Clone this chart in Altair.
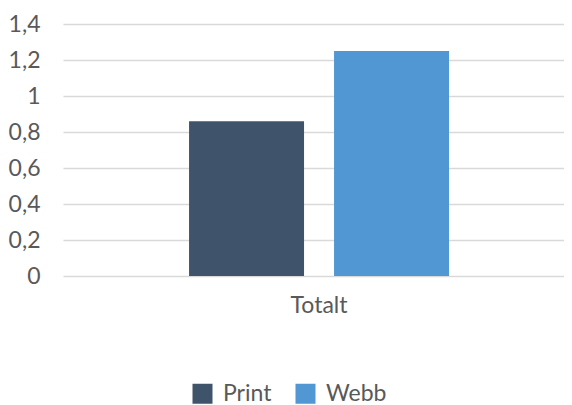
import altair as alt
import pandas as pd

categories = ["Totalt", "Totalt"]
series = ["Print", "Webb"]
values = [0.86, 1.25]
colors = ["#3F546B", "#5097D3"]
y_ticks = [0, 0.2, 0.4, 0.6, 0.8, 1.0, 1.2, 1.4]

df = pd.DataFrame({"kategori": categories, "serie": series, "värde": values})

FONT = "Lato"
TXT = "#595959"
FS = 23

chart = alt.Chart(df).mark_bar().encode(
    x=alt.X("kategori:N", title=None,
            scale=alt.Scale(paddingInner=0, paddingOuter=0.4635, align=0.523),
            axis=alt.Axis(labelAngle=0, ticks=False, domain=False, labelPadding=18,
                          labelFontSize=FS, labelColor=TXT, labelFont=FONT)),
    xOffset=alt.XOffset("serie:N", scale=alt.Scale(domain=series, paddingInner=0.207, paddingOuter=0)),
    y=alt.Y("värde:Q", title=None,
            scale=alt.Scale(domain=[0, 1.4], nice=False),
            axis=alt.Axis(values=y_ticks, ticks=False, domain=False, labelPadding=23,
                          labelFontSize=FS, labelColor=TXT, labelFont=FONT,
                          gridColor="#D9D9D9", gridWidth=1.3,
                          labelExpr="replace(format(datum.value, '.1~f'), '.', ',')")),
    color=alt.Color("serie:N", scale=alt.Scale(domain=series, range=colors),
                    legend=alt.Legend(title=None, orient="none", direction="horizontal",
                                      legendX=128, legendY=358,
                                      symbolType="square", symbolSize=400,
                                      symbolStrokeWidth=0, labelFontSize=FS,
                                      labelColor=TXT, labelFont=FONT,
                                      labelOffset=9, columnPadding=22)),
).properties(
    width=501, height=252,
    autosize=alt.AutoSizeParams(type="none"),
    padding={"left": 55, "top": 16, "right": 0, "bottom": 129},
).configure_view(stroke=None)

chart.save("out.html", embed_options={"renderer": "svg", "actions": False})
